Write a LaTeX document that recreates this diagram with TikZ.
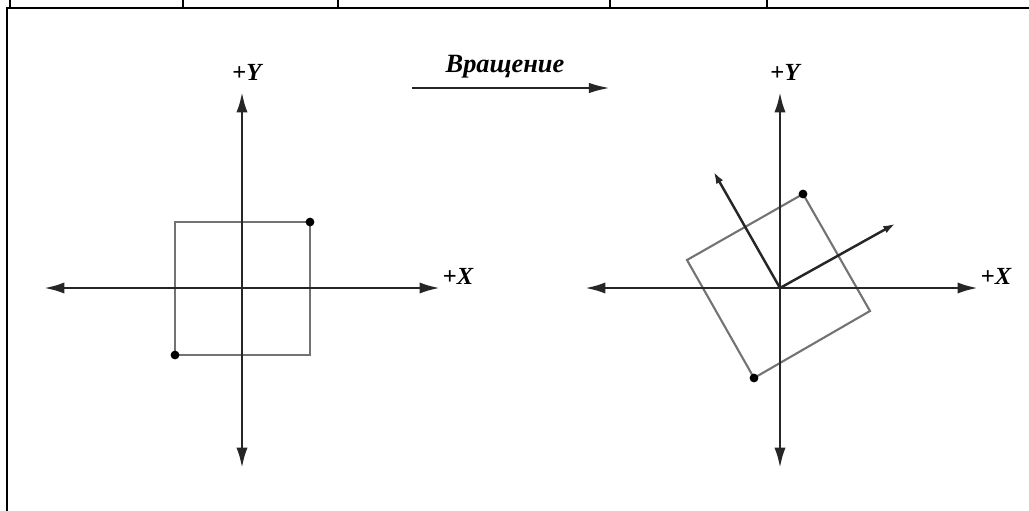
\documentclass[tikz,border=0pt]{standalone}
\usepackage{fontspec}
\setmainfont{Liberation Serif}
\usetikzlibrary{arrows.meta}
\newcommand{\axlabel}[1]{{\bfseries +\itshape #1}}

\begin{document}
\begin{tikzpicture}[x=0.02cm,y=-0.02cm,
    axis/.style={line width=1.8pt,black!85,arrows={Latex[length=13pt,width=7pt]-Latex[length=13pt,width=7pt]}},
    box/.style={line width=1.2pt,black!55},
    turn/.style={line width=0.8pt,black!75,arrows={-Latex[length=5pt,width=3.5pt]}},
    frame/.style={line width=1.1pt,black},
    dot/.style={fill=black},
    lab/.style={font=\fontsize{14}{16}\selectfont,inner sep=0pt}]
    \useasboundingbox (0,0) rectangle (1029,511);

    % frame of the cell
    \coordinate (f0) at (7,511);
    \coordinate (f1) at (7,8);
    \coordinate (f2) at (1029,8);
    \foreach \t [count=\i] in {10,183,338,610,767} {
        \coordinate (t\i a) at (\t,0);
        \coordinate (t\i b) at (\t,8);
        \draw[frame] (t\i a) -- (t\i b);
    }
    \draw[frame] (f0) -- (f1) -- (f2);

    % left: before
    \coordinate (1) at (242,288);
    \coordinate (2) at (42,288);
    \coordinate (3) at (442,288);
    \coordinate (4) at (242,90);
    \coordinate (5) at (242,470);
    \coordinate (6) at (175,222);
    \coordinate (7) at (310,222);
    \coordinate (8) at (310,355);
    \coordinate (9) at (175,355);
    \node[lab] (10) at (247,72) {\axlabel{Y}};
    \node[lab] (11) at (458,276) {\axlabel{X}};

    % right: after
    \coordinate (12) at (780,288);
    \coordinate (13) at (583,288);
    \coordinate (14) at (980,288);
    \coordinate (15) at (780,90);
    \coordinate (16) at (780,470);
    \coordinate (17) at (803,194);
    \coordinate (18) at (870,311);
    \coordinate (19) at (754,378);
    \coordinate (20) at (687,260);
    \coordinate (21) at (715,174);
    \coordinate (22) at (893,225);
    \node[lab] (23) at (785,72) {\axlabel{Y}};
    \node[lab] (24) at (996,276) {\axlabel{X}};

    % rotation arrow
    \coordinate (25) at (412,88);
    \coordinate (26) at (610,88);
    \node[lab,font=\fontsize{15}{17}\selectfont\bfseries\itshape] (27) at (505,67) {Вращение};

    \draw[box] (6) -- (7) -- (8) -- (9) -- cycle;
    \draw[box] (17) -- (18) -- (19) -- (20) -- cycle;

    \path
    (2) [axis] edge (3)
    (5) [axis] edge (4)
    (13) [axis] edge (14)
    (16) [axis] edge (15)
    (12) [turn] edge (21)
    (12) [turn] edge (22)
    (25) [line width=1.4pt,black!85,arrows={-Latex[length=12pt,width=6pt]}] edge (26);

    \foreach \c in {7,9,17,19} \fill[dot] (\c) circle[radius=2.5pt];
\end{tikzpicture}
\end{document}
